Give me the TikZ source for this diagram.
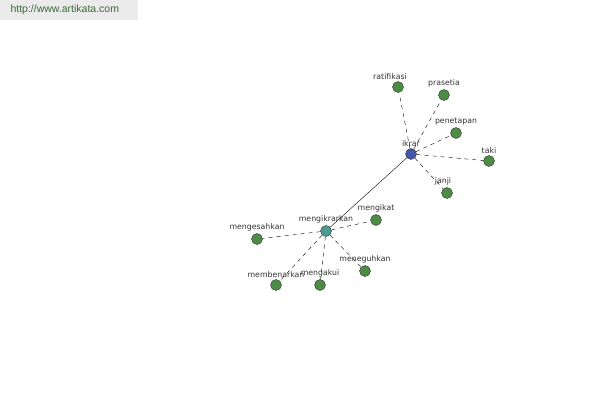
\documentclass[tikz,border=0pt]{standalone}
\usepackage{fontspec}
\setmainfont{Liberation Sans}
\newfontfamily\wordfont{DejaVu Sans}
\definecolor{leafgreen}{HTML}{4C8C44}
\definecolor{rootblue}{HTML}{4557A8}
\definecolor{midteal}{HTML}{4A9A92}
\definecolor{sitegray}{HTML}{EBEBEB}
\definecolor{sitetext}{HTML}{3A6A3A}

\begin{document}
\begin{tikzpicture}[
        x=1pt,y=-1pt,
        every label/.style={font=\wordfont\fontsize{7.8}{8}\selectfont,text=black!80,inner sep=1.5pt},
        word/.style={circle,draw=black!80,thin,minimum size=11pt,inner sep=0pt,fill=leafgreen},
        link/.style={thin,dashed,dash pattern=on 4pt off 4pt}
    ]
        \useasboundingbox (0,0) rectangle (600,400);
        \fill[sitegray] (0,0) rectangle (138,20);
        \node[anchor=west,font=\fontsize{10.5}{11}\selectfont,text=sitetext] (site) at (7,10) {http://www.artikata.com};

        % main words
        \node [word,fill=rootblue,label={above:ikrar}] (ikrar) at (411,154) {};
        \node [word,fill=midteal,label={above:mengikrarkan}] (mengikrarkan) at (326,231) {};

        % around ikrar
        \node [word,label={[xshift=-8pt]above:ratifikasi}] (ratifikasi) at (398,87) {};
        \node [word,label={above:prasetia}] (prasetia) at (444,95) {};
        \node [word,label={above:penetapan}] (penetapan) at (456,133) {};
        \node [word,label={above:taki}] (taki) at (489,161) {};
        \node [word,label={[xshift=-4pt]above:janji}] (janji) at (447,193) {};

        % around mengikrarkan
        \node [word,label={above:mengikat}] (mengikat) at (376,220) {};
        \node [word,label={above:mengesahkan}] (mengesahkan) at (257,239) {};
        \node [word,label={above:membenarkan}] (membenarkan) at (276,285) {};
        \node [word,label={above:mengakui}] (mengakui) at (320,285) {};
        \node [word,label={above:meneguhkan}] (meneguhkan) at (365,271) {};

        \draw[thin] (ikrar) -- (mengikrarkan);
        \foreach \w in {ratifikasi,prasetia,penetapan,taki,janji}
            \draw[link] (ikrar) -- (\w);
        \foreach \w in {mengikat,mengesahkan,membenarkan,mengakui,meneguhkan}
            \draw[link] (mengikrarkan) -- (\w);
    \end{tikzpicture}
\end{document}
